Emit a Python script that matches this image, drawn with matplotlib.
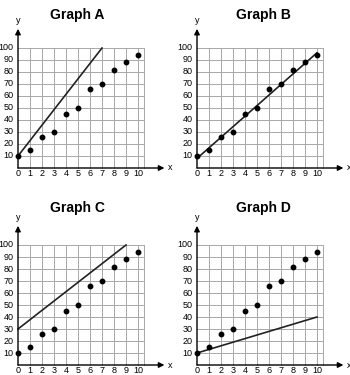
import numpy as np
import matplotlib.pyplot as plt

plt.rcParams['font.family'] = ['Liberation Sans', 'DejaVu Sans']

# data points shared by all four graphs
xs = [0, 1, 2, 3, 4, 5, 6, 7, 8, 9, 10]
ys = [10, 15, 26, 30, 45, 50, 66, 70, 82, 88, 94]

titles = ['Graph A', 'Graph B', 'Graph C', 'Graph D']
# line end points for each graph
line_x = [[0, 7], [0, 10], [0, 9], [0, 10]]
line_y = [[10, 100], [8, 96], [30, 100], [10, 40]]

W, H = 350, 375
fig = plt.figure(figsize=(W / 100, H / 100), dpi=100)

# origin pixel (from top-left) of each panel and title position
origins = [(18, 168), (197, 168), (18, 365), (197, 365)]
title_pos = [(77, 15), (263, 15), (77, 208), (263, 208)]
px_x = 12.0   # pixels per x unit
px_y = 1.2    # pixels per y unit
xlo, xhi = -1.6, 13.0
ylo, yhi = -14, 125

for i in range(4):
    ox, oy = origins[i]
    left = ox + xlo * px_x
    width = (xhi - xlo) * px_x
    bottom_top = oy - ylo * px_y
    height = (yhi - ylo) * px_y
    ax = fig.add_axes([left / W, 1 - bottom_top / H, width / W, height / H])
    ax.set_xlim(xlo, xhi)
    ax.set_ylim(ylo, yhi)
    ax.axis('off')

    # grid
    for gx in range(1, 11):
        ax.plot([gx, gx], [0, 100], color='#a8a8a8', lw=0.7, zorder=1)
    ax.plot([10.5, 10.5], [0, 100], color='#a8a8a8', lw=0.7, zorder=1)
    for gy in range(10, 101, 10):
        ax.plot([0, 10.5], [gy, gy], color='#a8a8a8', lw=0.7, zorder=1)

    # axes with arrows
    ax.annotate('', xy=(12.2, 0), xytext=(0, 0),
                arrowprops=dict(arrowstyle='-|>', color='black', lw=1.0,
                                mutation_scale=8, shrinkA=0, shrinkB=0))
    ax.annotate('', xy=(0, 116), xytext=(0, 0),
                arrowprops=dict(arrowstyle='-|>', color='black', lw=1.0,
                                mutation_scale=8, shrinkA=0, shrinkB=0))
    ax.text(12.5, 0, 'x', fontsize=6.5, ha='left', va='center')
    ax.text(0, 119, 'y', fontsize=6.5, ha='center', va='bottom')

    # tick labels
    for gy in range(10, 101, 10):
        ax.text(-0.35, gy, str(gy), fontsize=6.5, ha='right', va='center')
    for gx in range(0, 11):
        ax.text(gx, -4.2, str(gx), fontsize=6.5, ha='center', va='center')

    ax.plot(xs, ys, 'o', color='black', ms=3.2, zorder=3)
    ax.plot(line_x[i], line_y[i], color='#222222', lw=1.2, zorder=2)

    tx, ty = title_pos[i]
    fig.text(tx / W, 1 - ty / H, titles[i], fontsize=10, fontweight='bold',
             ha='center', va='center')

fig.savefig('out.png', dpi=100)
